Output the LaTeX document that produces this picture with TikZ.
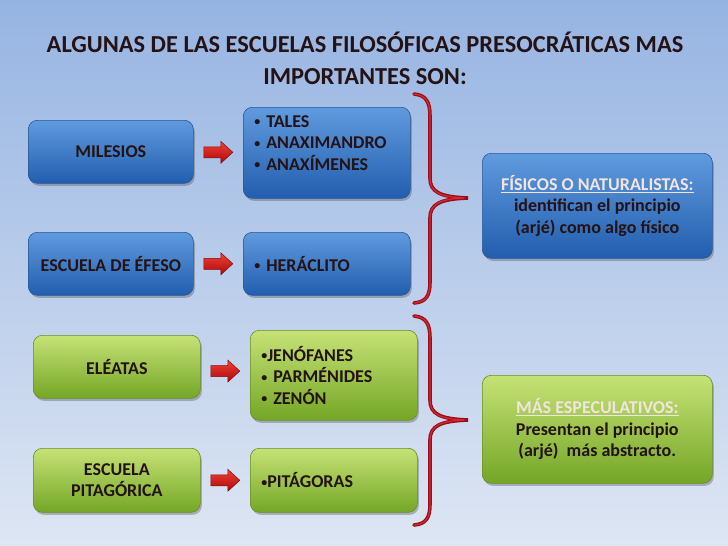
\documentclass[tikz,border=0pt]{standalone}
\usepackage{fontspec}
\setmainfont{Carlito}
\usetikzlibrary{shadows,calc}
\definecolor{bgtop}{RGB}{150,180,226}
\definecolor{bgbot}{RGB}{222,230,243}
\definecolor{bluetop}{RGB}{96,154,222}
\definecolor{bluebot}{RGB}{34,94,174}
\definecolor{blueline}{RGB}{42,86,150}
\definecolor{greentop}{RGB}{198,226,118}
\definecolor{greenbot}{RGB}{116,166,38}
\definecolor{greenline}{RGB}{104,140,44}
\definecolor{txt}{RGB}{36,18,20}
\definecolor{redtop}{RGB}{242,64,52}
\definecolor{redbot}{RGB}{168,10,12}
\definecolor{bracedark}{RGB}{150,14,26}
\definecolor{bracelight}{RGB}{215,40,50}
\definecolor{headlight}{RGB}{242,228,222}
\newcommand{\smbul}{{\fontsize{12}{12}\selectfont\raisebox{1.6pt}{•}}}
\tikzset{
  boxfont/.style={font=\bfseries\fontsize{18}{21.5}\selectfont, text=txt},
  box/.style={rounded corners=9pt, line width=0.6pt, inner sep=0pt,
    boxfont, align=center,
    drop shadow={shadow xshift=1.5pt,shadow yshift=-2.5pt,opacity=0.35,fill=black!70}},
  bluebox/.style={box, draw=blueline, top color=bluetop, bottom color=bluebot},
  greenbox/.style={box, draw=greenline, top color=greentop, bottom color=greenbot},
  listtext/.style={text width=145pt, align=left},
  redarrow/.style={draw=redbot!80!black, line width=0.5pt, top color=redtop, bottom color=redbot},
  bracepic/.pic={
    \draw[bracedark, line width=3.6pt, line cap=round, miter limit=20]
      (0,0) .. controls (12,1) and (16,8) .. (16,22) -- (16,84)
      .. controls (16,98) and (26,103) .. (54,104)
      .. controls (26,105) and (16,110) .. (16,124) -- (16,188)
      .. controls (16,202) and (12,208) .. (0,209);
    \draw[bracelight, line width=1.2pt, line cap=round]
      (0,0) .. controls (12,1) and (16,8) .. (16,22) -- (16,84)
      .. controls (16,98) and (26,103) .. (50,104);
    \draw[bracelight, line width=1.2pt, line cap=round]
      (50,104) .. controls (26,105) and (16,110) .. (16,124) -- (16,188)
      .. controls (16,202) and (12,208) .. (0,209);
  }
}
\begin{document}
\begin{tikzpicture}[x=1pt,y=-1pt]
\fill[top color=bgtop,bottom color=bgbot] (0,0) rectangle (728,546);
\useasboundingbox (0,0) rectangle (728,546);

% title
\node[font=\bfseries\fontsize{24.4}{32}\selectfont, text=txt, align=center] (title) at (365,58)
  {ALGUNAS DE LAS ESCUELAS FILOSÓFICAS PRESOCRÁTICAS MAS\\IMPORTANTES SON:};

% upper group (blue)
\node[bluebox, anchor=north west, minimum width=165pt, minimum height=63pt] (mil) at (28,120) {MILESIOS};
\node[bluebox, anchor=north west, minimum width=167pt, minimum height=91pt] (tal) at (243,107) {};
\node[boxfont, listtext, inner sep=0pt] (taltext) at ($(tal.center)+(0,-10)$)
  {\smbul\ TALES\\\smbul\ ANAXIMANDRO\\\smbul\ ANAXÍMENES};
\node[bluebox, anchor=north west, minimum width=165pt, minimum height=63pt] (efe) at (28,232) {ESCUELA DE ÉFESO};
\node[bluebox, listtext, anchor=north west, minimum width=167pt, minimum height=63pt] (her) at (243,232) {\smbul\ HERÁCLITO};
\node[bluebox, anchor=north west, minimum width=230pt, minimum height=105pt] (fis) at (482,153)
  {{\color{headlight}\underline{FÍSICOS O NATURALISTAS:}}\\ identifican el principio\\(arjé) como algo físico};

% lower group (green)
\node[greenbox, anchor=north west, minimum width=167pt, minimum height=63pt] (ele) at (33,335) {ELÉATAS};
\node[greenbox, listtext, anchor=north west, minimum width=167pt, minimum height=90pt] (jen) at (250,330)
  {\smbul JENÓFANES\\\smbul\ PARMÉNIDES\\\smbul\ ZENÓN};
\node[greenbox, anchor=north west, minimum width=167pt, minimum height=64pt] (pit) at (33,448) {ESCUELA\\PITAGÓRICA};
\node[greenbox, listtext, anchor=north west, minimum width=167pt, minimum height=64pt] (pitag) at (250,448) {\smbul PITÁGORAS};
\node[greenbox, anchor=north west, minimum width=230pt, minimum height=108pt] (esp) at (482,375)
  {{\color{headlight}\underline{MÁS ESPECULATIVOS:}}\\Presentan el principio\\(arjé)~~más abstracto.};

% block arrows
\coordinate (a1) at ($(mil.east)!0.5!(tal.west)$);
\coordinate (a2) at ($(efe.east)!0.5!(her.west)$);
\coordinate (a3) at ($(ele.east)!0.5!(jen.west)$);
\coordinate (a4) at ($(pit.east)!0.5!(pitag.west)$);
\foreach \a in {a1,a2,a3,a4}{
  \draw[redarrow] (\a) ++(-14.5,-5.5) -- ++(17,0) -- ++(0,-5.5) -- ++(12,11)
    -- ++(-12,11) -- ++(0,-5.5) -- ++(-17,0) -- cycle;
}

% braces
\pic at (414,94) {bracepic};
\pic at (414,316) {bracepic};
\end{tikzpicture}
\end{document}
